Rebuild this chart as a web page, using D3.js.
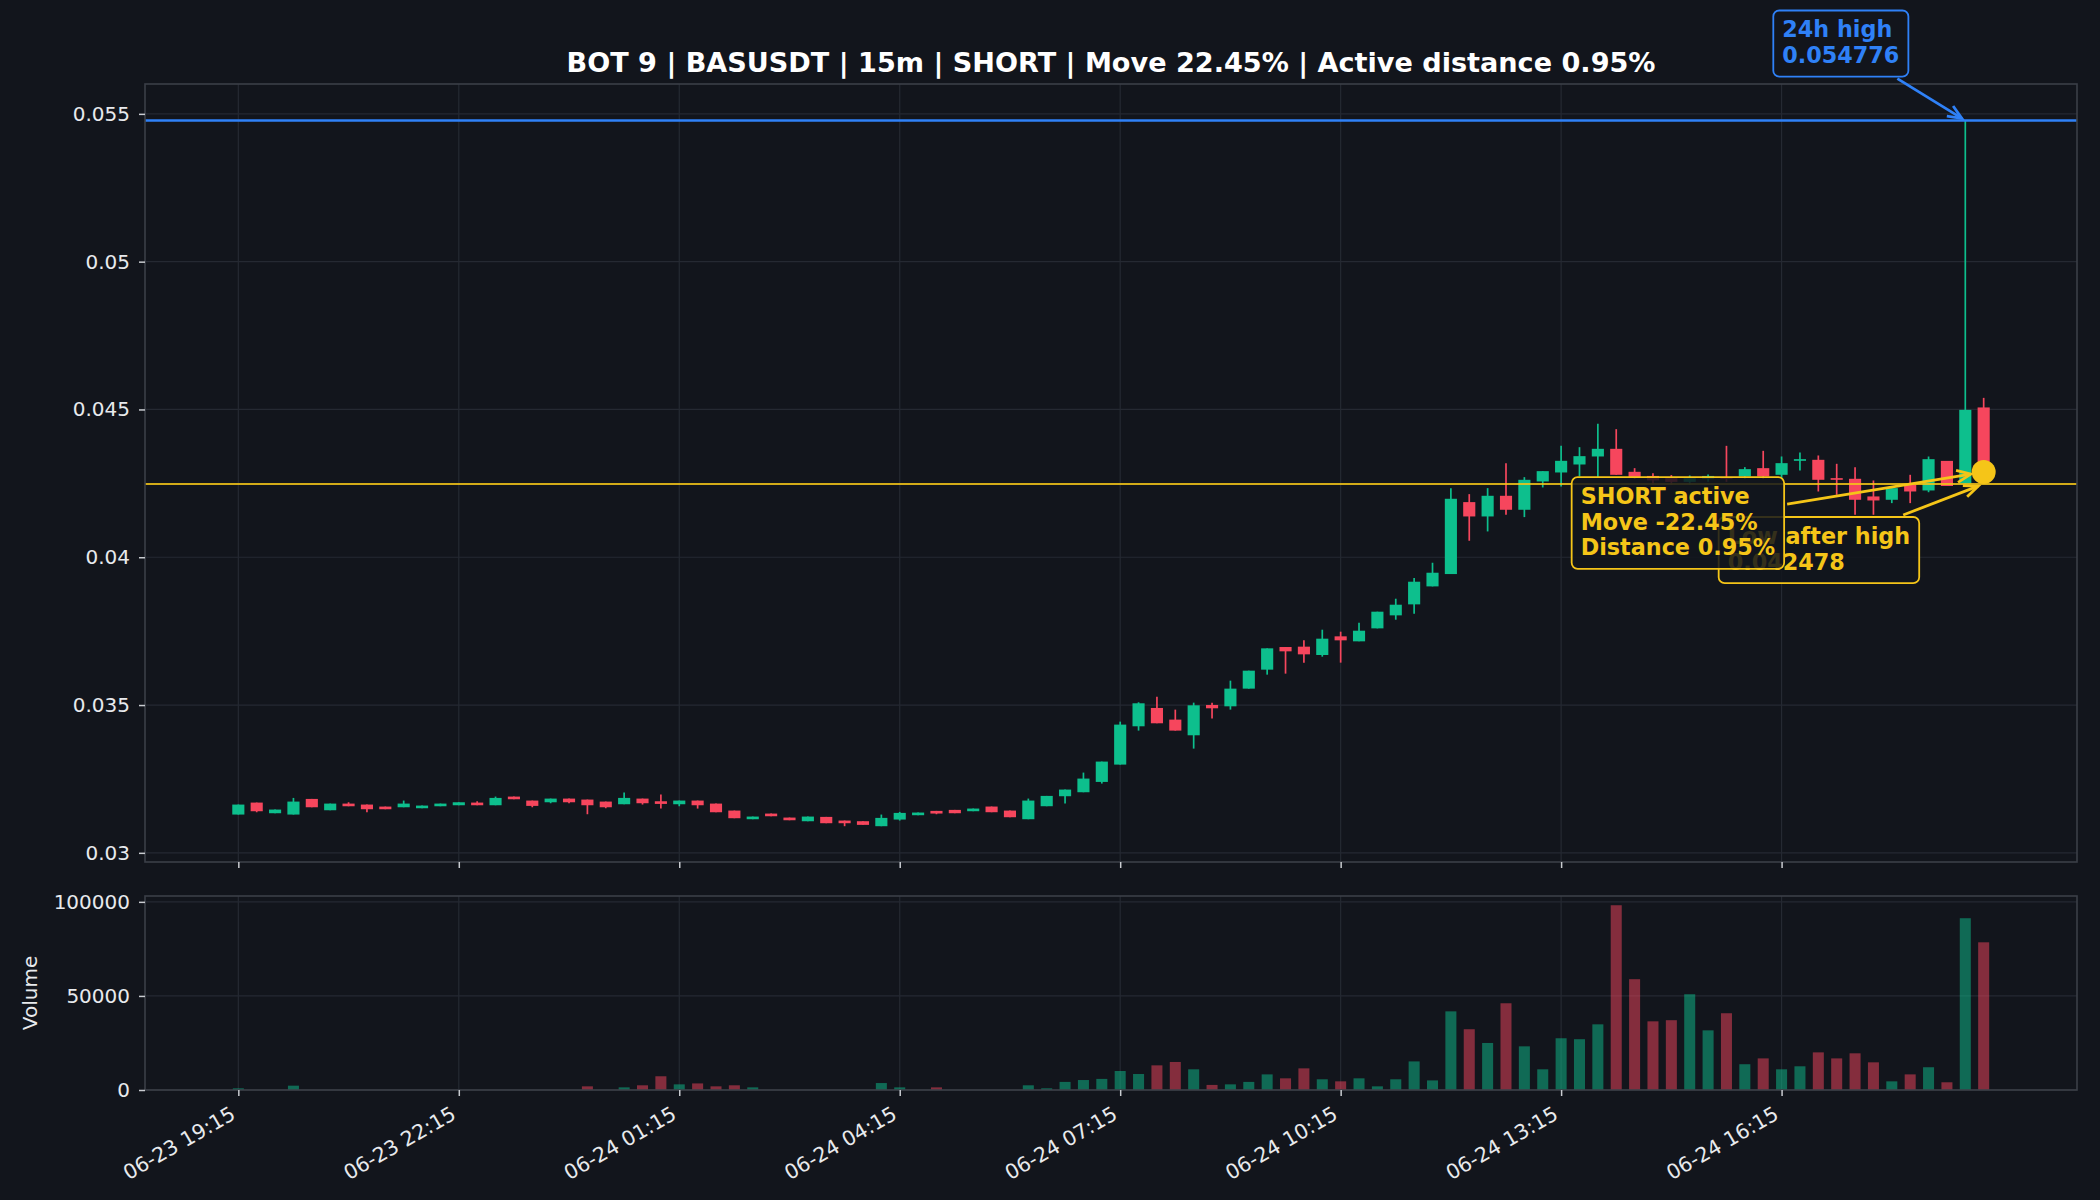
<!DOCTYPE html>
<html lang="en">
<head>
<meta charset="UTF-8">
<title>BOT 9 | BASUSDT | 15m</title>
<script src="https://cdn.jsdelivr.net/npm/d3@7"></script>
<style>
    body {margin: 0; background: #12151c;}
    svg {display: block; font-family: "DejaVu Sans", sans-serif;}
</style>
</head>
<body>
<script>
    const width = 2100;
    const height = 1200;

    // 15m candles, index 0 = 06-23 19:15, index 95 = 06-24 19:00
    const opens = [
        0.031295, 0.031700, 0.031340, 0.031295, 0.031824, 0.031441, 0.031666, 0.031633, 0.031565, 0.031542,
        0.031509, 0.031576, 0.031610, 0.031700, 0.031610, 0.031903, 0.031768, 0.031711, 0.031835, 0.031802,
        0.031734, 0.031644, 0.031835, 0.031745, 0.031644, 0.031768, 0.031666, 0.031430, 0.031137, 0.031328,
        0.031193, 0.031069, 0.031216, 0.031092, 0.031070, 0.030901, 0.031126, 0.031273, 0.031419, 0.031453,
        0.031408, 0.031566, 0.031430, 0.031137, 0.031577, 0.031915, 0.032050, 0.032399, 0.032985, 0.034281,
        0.034901, 0.034507, 0.033977, 0.035003, 0.034957, 0.035555, 0.036197, 0.036963, 0.036975, 0.036693,
        0.037324, 0.037155, 0.037594, 0.038034, 0.038406, 0.039014, 0.039431, 0.041865, 0.041380, 0.042079,
        0.041606, 0.042564, 0.042868, 0.043138, 0.043409, 0.043668, 0.042890, 0.042750, 0.042700, 0.042550,
        0.042650, 0.042700, 0.042733, 0.043014, 0.042789, 0.043262, 0.043296, 0.042676, 0.042654, 0.042057,
        0.041944, 0.042451, 0.042259, 0.043260, 0.042490, 0.045068
    ];
    const highs = [
        0.031633, 0.031700, 0.031464, 0.031858, 0.031824, 0.031666, 0.031711, 0.031633, 0.031565, 0.031768,
        0.031599, 0.031666, 0.031711, 0.031745, 0.031903, 0.031903, 0.031768, 0.031835, 0.031835, 0.031802,
        0.031734, 0.032038, 0.031835, 0.031971, 0.031768, 0.031768, 0.031666, 0.031430, 0.031227, 0.031328,
        0.031193, 0.031227, 0.031216, 0.031092, 0.031070, 0.031295, 0.031385, 0.031363, 0.031419, 0.031453,
        0.031498, 0.031566, 0.031430, 0.031836, 0.031926, 0.032140, 0.032715, 0.033087, 0.034439, 0.035093,
        0.035284, 0.034845, 0.035081, 0.035081, 0.035825, 0.036163, 0.036918, 0.036963, 0.037189, 0.037549,
        0.037482, 0.037786, 0.038158, 0.038597, 0.039296, 0.039814, 0.042338, 0.042135, 0.042338, 0.043183,
        0.042710, 0.042913, 0.043769, 0.043724, 0.044513, 0.044333, 0.043014, 0.042845, 0.042780, 0.042766,
        0.042800, 0.043769, 0.043048, 0.043600, 0.043409, 0.043544, 0.043443, 0.043161, 0.043048, 0.042597,
        0.042338, 0.042789, 0.043408, 0.043260, 0.054776, 0.045392
    ];
    const lows = [
        0.031295, 0.031373, 0.031340, 0.031295, 0.031542, 0.031441, 0.031576, 0.031373, 0.031475, 0.031542,
        0.031509, 0.031576, 0.031610, 0.031610, 0.031610, 0.031813, 0.031542, 0.031678, 0.031678, 0.031306,
        0.031509, 0.031644, 0.031633, 0.031497, 0.031576, 0.031497, 0.031373, 0.031171, 0.031137, 0.031238,
        0.031103, 0.031069, 0.031002, 0.030901, 0.030946, 0.030901, 0.031092, 0.031273, 0.031306, 0.031340,
        0.031408, 0.031374, 0.031205, 0.031137, 0.031577, 0.031667, 0.032050, 0.032343, 0.032985, 0.034135,
        0.034383, 0.034135, 0.033526, 0.034541, 0.034845, 0.035555, 0.036028, 0.036062, 0.036434, 0.036636,
        0.036434, 0.037155, 0.037594, 0.037887, 0.038090, 0.039014, 0.039431, 0.040558, 0.040873, 0.041437,
        0.041358, 0.042361, 0.042395, 0.042733, 0.042710, 0.042789, 0.042650, 0.042450, 0.042450, 0.042450,
        0.042550, 0.042550, 0.042650, 0.042650, 0.042676, 0.042935, 0.042225, 0.042113, 0.041437, 0.041437,
        0.041831, 0.041831, 0.042200, 0.042410, 0.042490, 0.042478
    ];
    const closes = [
        0.031633, 0.031407, 0.031464, 0.031734, 0.031542, 0.031666, 0.031576, 0.031475, 0.031475, 0.031666,
        0.031599, 0.031666, 0.031711, 0.031610, 0.031858, 0.031813, 0.031588, 0.031835, 0.031711, 0.031610,
        0.031542, 0.031858, 0.031678, 0.031655, 0.031768, 0.031610, 0.031373, 0.031171, 0.031227, 0.031238,
        0.031103, 0.031227, 0.031002, 0.031002, 0.030946, 0.031182, 0.031351, 0.031363, 0.031329, 0.031340,
        0.031498, 0.031374, 0.031205, 0.031768, 0.031926, 0.032140, 0.032512, 0.033087, 0.034338, 0.035059,
        0.034383, 0.034135, 0.034991, 0.034890, 0.035555, 0.036163, 0.036918, 0.036817, 0.036715, 0.037245,
        0.037189, 0.037515, 0.038158, 0.038394, 0.039172, 0.039476, 0.041978, 0.041380, 0.042079, 0.041606,
        0.042620, 0.042913, 0.043262, 0.043420, 0.043668, 0.042789, 0.042700, 0.042600, 0.042550, 0.042700,
        0.042750, 0.042650, 0.042981, 0.042733, 0.043183, 0.043319, 0.042620, 0.042620, 0.041944, 0.041921,
        0.042338, 0.042225, 0.043318, 0.042410, 0.044987, 0.042882
    ];
    const volumes = [
        900, 0, 0, 2300, 0, 0, 0, 0, 0, 0,
        0, 0, 0, 0, 0, 0, 0, 0, 0, 1950,
        0, 1400, 2500, 7300, 3000, 3500, 1950, 2500, 1400, 0,
        0, 0, 0, 0, 0, 3700, 1400, 0, 1400, 0,
        0, 0, 0, 2500, 900, 4300, 5300, 5900, 10100, 8500,
        13100, 14900, 11000, 2700, 3000, 4300, 8300, 6200, 11500, 5700,
        4600, 6200, 1950, 5700, 15200, 5100, 41800, 32300, 25000, 46100,
        23200, 11000, 27500, 27000, 34900, 98200, 58900, 36500, 37100, 50900,
        31700, 40800, 13700, 16800, 11000, 12600, 20000, 16800, 19500, 14700,
        4600, 8300, 12100, 4100, 91300, 78500
    ];

    const tickIdx    = [0, 12, 24, 36, 48, 60, 72, 84];
    const tickLabels = ["06-23 19:15", "06-23 22:15", "06-24 01:15", "06-24 04:15",
                        "06-24 07:15", "06-24 10:15", "06-24 13:15", "06-24 16:15"];
    const priceTicks = [0.03, 0.035, 0.04, 0.045, 0.05, 0.055];
    const volTicks   = [0, 50000, 100000];

    const high24h      = 0.054776;
    const highIdx      = 94;
    const lowAfterHigh = 0.042478;
    const lastPrice    = 0.042882;
    const lastIdx      = 95;
    const title = "BOT 9 | BASUSDT | 15m | SHORT | Move 22.45% | Active distance 0.95%";

    // colours
    const bg = "#12151c", gridCol = "#252932", spineCol = "#3b3f48", txtCol = "#e8eaed";
    const up = "#0dbf8d", down = "#f6465d", blue = "#2f81f7", yellow = "#f5c518";

    const main = {left: 145, right: 2077, top: 84, bottom: 862};
    const vol  = {top: 896, bottom: 1090};

    const candles = d3.range(opens.length).map(i => ({
        i: i, o: opens[i], h: highs[i], l: lows[i], c: closes[i], v: volumes[i],
        col: closes[i] >= opens[i] ? up : down
    }));

    // matplotlib-ish 5% margin around bars of width .6
    const n = candles.length;
    const span = (n - 1) + 0.6;
    const x = d3.scaleLinear()
            .domain([-0.3 - 0.05 * span, n - 1 + 0.3 + 0.05 * span])
            .range([main.left, main.right]);
    const y = d3.scaleLinear().domain([0.02969, 0.05601]).range([main.bottom, main.top]);
    const yv = d3.scaleLinear().domain([0, d3.max(volumes) * 1.05]).range([vol.bottom, vol.top]);

    const step = x(1) - x(0);
    const bodyW = step * 0.66;
    const volW = step * 0.6;

    const svg = d3.select("body").append("svg")
            .attr("width", width).attr("height", height)
            .style("background", bg);

    // grid
    const grid = svg.append("g").attr("class", "grid")
            .style("stroke", gridCol).style("stroke-width", 1.2);
    tickIdx.forEach(function(t) {
        grid.append("line").attr("x1", x(t)).attr("x2", x(t)).attr("y1", main.top).attr("y2", main.bottom);
        grid.append("line").attr("x1", x(t)).attr("x2", x(t)).attr("y1", vol.top).attr("y2", vol.bottom);
    });
    priceTicks.forEach(function(t) {
        grid.append("line").attr("x1", main.left).attr("x2", main.right).attr("y1", y(t)).attr("y2", y(t));
    });
    volTicks.forEach(function(t) {
        grid.append("line").attr("x1", main.left).attr("x2", main.right).attr("y1", yv(t)).attr("y2", yv(t));
    });

    // candles
    const cg = svg.append("g").attr("class", "candles");
    cg.selectAll("line.wick")
            .data(candles)
            .enter().append("line")
            .attr("class", "wick")
            .attr("x1", d => x(d.i)).attr("x2", d => x(d.i))
            .attr("y1", d => y(d.h)).attr("y2", d => y(d.l))
            .style("stroke", d => d.col)
            .style("stroke-width", 1.7);
    cg.selectAll("rect.body")
            .data(candles)
            .enter().append("rect")
            .attr("class", "body")
            .attr("x", d => x(d.i) - bodyW / 2)
            .attr("y", d => y(Math.max(d.o, d.c)))
            .attr("width", bodyW)
            .attr("height", d => Math.max(1.5, Math.abs(y(d.o) - y(d.c))))
            .style("fill", d => d.col);

    // volume
    svg.append("g").attr("class", "volume")
            .selectAll("rect")
            .data(candles.filter(d => d.v > 0))
            .enter().append("rect")
            .attr("x", d => x(d.i) - volW / 2)
            .attr("y", d => yv(d.v))
            .attr("width", volW)
            .attr("height", d => yv(0) - yv(d.v))
            .style("fill", d => d.col)
            .style("fill-opacity", 0.5);

    // reference lines
    svg.append("line").attr("class", "high-line")
            .attr("x1", main.left).attr("x2", main.right)
            .attr("y1", y(high24h)).attr("y2", y(high24h))
            .style("stroke", blue).style("stroke-width", 2.4);
    svg.append("line").attr("class", "low-line")
            .attr("x1", main.left).attr("x2", main.right)
            .attr("y1", y(lowAfterHigh)).attr("y2", y(lowAfterHigh))
            .style("stroke", yellow).style("stroke-width", 2.2).style("stroke-opacity", 0.85);

    // frames
    [[main.top, main.bottom], [vol.top, vol.bottom]].forEach(function(p) {
        svg.append("rect")
                .attr("x", main.left).attr("y", p[0])
                .attr("width", main.right - main.left).attr("height", p[1] - p[0])
                .style("fill", "none").style("stroke", spineCol).style("stroke-width", 1.6);
    });

    // axes
    function styleAxis(g) {
        g.select(".domain").remove();
        g.selectAll(".tick line").style("stroke", "#c9ccd1").style("stroke-width", 1.5);
        g.selectAll(".tick text").style("fill", txtCol).style("font-size", "20px")
                .style("font-family", "DejaVu Sans, sans-serif");
    }
    svg.append("g").attr("transform", "translate(" + main.left + ",0)")
            .call(d3.axisLeft(y).tickValues(priceTicks).tickSize(6).tickPadding(9).tickFormat(d => String(d)))
            .call(styleAxis);
    svg.append("g").attr("transform", "translate(" + main.left + ",0)")
            .call(d3.axisLeft(yv).tickValues(volTicks).tickSize(6).tickPadding(9).tickFormat(d => String(d)))
            .call(styleAxis);
    svg.append("g").attr("transform", "translate(0," + main.bottom + ")")
            .call(d3.axisBottom(x).tickValues(tickIdx).tickSize(6).tickFormat(""))
            .call(styleAxis);
    const xa = svg.append("g").attr("transform", "translate(0," + vol.bottom + ")")
            .call(d3.axisBottom(x).tickValues(tickIdx).tickSize(6).tickFormat((d, k) => tickLabels[k]))
            .call(styleAxis);
    xa.selectAll(".tick text")
            .attr("y", 0).attr("dy", 0)
            .style("font-size", "20.5px")
            .attr("text-anchor", "end")
            .attr("transform", "translate(-2,28) rotate(-30)");

    svg.append("text")
            .attr("transform", "translate(37," + (vol.top + vol.bottom) / 2 + ") rotate(-90)")
            .attr("text-anchor", "middle")
            .style("fill", txtCol).style("font-size", "20px")
            .text("Volume");

    // title
    svg.append("text")
            .attr("x", (main.left + main.right) / 2).attr("y", 72)
            .attr("text-anchor", "middle")
            .style("fill", "#ffffff").style("font-size", "27.1px").style("font-weight", "bold")
            .text(title);

    // current price marker
    svg.append("circle")
            .attr("cx", x(lastIdx)).attr("cy", y(lastPrice)).attr("r", 12)
            .style("fill", yellow);

    // annotation boxes with arrows
    // from: [offset left of box's right edge, offset below box top] ("bottom" = under the box)
    const fs = 22.3, lh = 25.6;
    function annotate(lines, col, bx, by, from, to, shrink, alpha) {
        const g = svg.append("g");
        const box = g.append("rect");
        const t = g.append("text")
                .style("fill", col).style("font-size", fs + "px").style("font-weight", "bold");
        lines.forEach(function(s, k) {
            t.append("tspan").attr("x", bx + 9).attr("y", by + 27 + k * lh).text(s);
        });
        const w = t.node().getBBox().width + 18;
        const h = lines.length * lh + 15;
        box.attr("x", bx).attr("y", by).attr("width", w).attr("height", h)
                .attr("rx", 6)
                .style("fill", bg).style("fill-opacity", alpha)
                .style("stroke", col).style("stroke-width", 1.8);
        const sx = bx + w - from[0];
        const sy = from[1] === "bottom" ? by + h + 2 : by + from[1];
        const dx = to[0] - sx, dy = to[1] - sy, len = Math.hypot(dx, dy);
        const ux = dx / len, uy = dy / len;
        const ex = to[0] - ux * shrink, ey = to[1] - uy * shrink;
        const hl = 14, hw = 6;
        g.append("line").attr("x1", sx).attr("y1", sy).attr("x2", ex).attr("y2", ey)
                .style("stroke", col).style("stroke-width", 2.8);
        g.append("path")
                .attr("d", "M" + (ex - ux * hl - uy * hw) + "," + (ey - uy * hl + ux * hw) +
                        "L" + ex + "," + ey +
                        "L" + (ex - ux * hl + uy * hw) + "," + (ey - uy * hl - ux * hw))
                .style("fill", "none").style("stroke", col).style("stroke-width", 2.8);
    }

    const pHigh = [x(highIdx), y(high24h)];
    const pLow = [x(lastIdx), y(lowAfterHigh)];
    const pLast = [x(lastIdx), y(lastPrice)];

    annotate(["24h high", high24h.toFixed(6)], blue,
            pHigh[0] - 192, pHigh[1] - 110, [11, "bottom"], pHigh, 4, 1);
    annotate(["Low after high", lowAfterHigh.toFixed(6)], yellow,
            pLow[0] - 265, pLow[1] + 33, [16, -2], pLow, 6, 0.85);
    annotate(["SHORT active", "Move -22.45%", "Distance 0.95%"], yellow,
            pLast[0] - 412, pLast[1] + 5, [-3, 27], pLast, 13, 0.85);
</script>
</body>
</html>
